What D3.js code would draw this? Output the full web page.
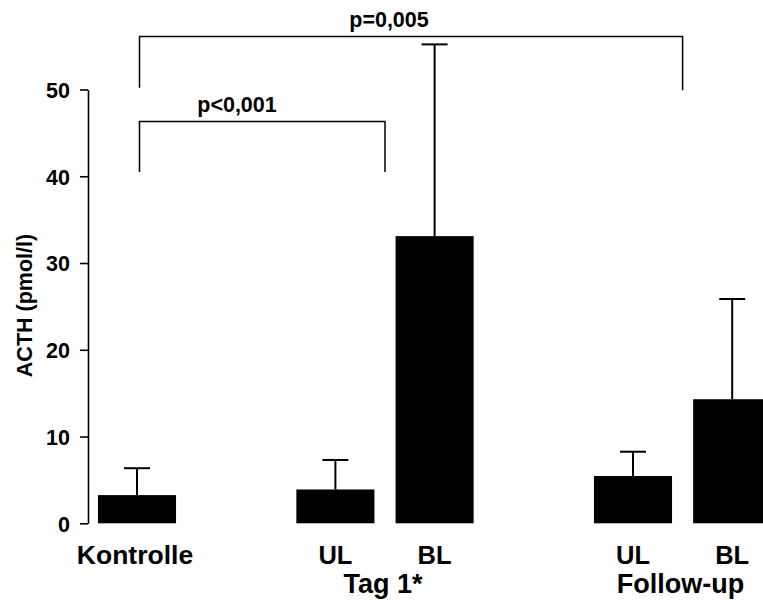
<!DOCTYPE html>
<html>
<head>
<meta charset="utf-8">
<script src="https://cdn.jsdelivr.net/npm/d3@7"></script>
<style>
  html, body { margin: 0; padding: 0; background: #fff; }
  svg { display: block; }
  text { font-family: "Liberation Sans", Arial, sans-serif; font-weight: bold; fill: #000; }
</style>
</head>
<body>
<script>
// ---- data ----
const slots      = ["Kontrolle", "gap1", "Tag1-UL", "Tag1-BL", "gap2", "FU-UL", "FU-BL"];
const barKeys    = ["Kontrolle", "Tag1-UL", "Tag1-BL", "FU-UL", "FU-BL"];
const barLabels  = ["Kontrolle", "UL", "BL", "UL", "BL"];
const means      = [3.25, 3.9, 33.1, 5.45, 14.3];
const upperErr   = [6.35, 7.3, 55.2, 8.25, 25.85];
const groupNames = ["Tag 1*", "Follow-up"];
const groupMembers = [["Tag1-UL", "Tag1-BL"], ["FU-UL", "FU-BL"]];
const yTicks     = [0, 10, 20, 30, 40, 50];
const yLabel     = "ACTH (pmol/l)";
const pLabels    = ["p<0,001", "p=0,005"];

// ---- layout ----
const W = 763, H = 600;
const svg = d3.select("body").append("svg").attr("width", W).attr("height", H);

const x = d3.scaleBand().domain(slots).range([87.4, 781.8]).paddingInner(0.213).paddingOuter(0.1065);
const y = d3.scaleLinear().domain([0, 50]).range([523.3, 89.5]);

const center = k => x(k) + x.bandwidth() / 2;

// axis
const axis = d3.axisLeft(y).tickValues(yTicks).tickSize(8).tickSizeOuter(0).tickPadding(10).tickFormat(d3.format("d"));
const gAxis = svg.append("g").attr("transform", "translate(88,0)").call(axis);
gAxis.select(".domain").attr("stroke", "#000").attr("stroke-width", 1.6);
gAxis.selectAll(".tick line").attr("stroke", "#000").attr("stroke-width", 1.6);
gAxis.selectAll(".tick text")
  .style("font-size", "21.5px").style("font-family", "'Liberation Sans', Arial, sans-serif")
  .style("font-weight", "bold").attr("fill", "#000").attr("dy", "0.36em");

// y label
svg.append("text")
  .attr("transform", "translate(32,305.5) rotate(-90)")
  .attr("text-anchor", "middle")
  .style("font-size", "21.5px")
  .text(yLabel);

// bars
const bars = barKeys.map((k, i) => ({ key: k, mean: means[i], up: upperErr[i], label: barLabels[i] }));

svg.append("g").selectAll("rect").data(bars).join("rect")
  .attr("x", d => x(d.key))
  .attr("y", d => y(d.mean))
  .attr("width", x.bandwidth())
  .attr("height", d => y(0) - y(d.mean))
  .attr("fill", "#000");

// error bars
const capHalf = 13;
const gErr = svg.append("g").attr("stroke", "#000").attr("stroke-width", 2);
gErr.selectAll("line.v").data(bars).join("line").attr("class", "v")
  .attr("x1", d => center(d.key)).attr("x2", d => center(d.key))
  .attr("y1", d => y(d.mean)).attr("y2", d => y(d.up));
gErr.selectAll("line.c").data(bars).join("line").attr("class", "c")
  .attr("x1", d => center(d.key) - capHalf).attr("x2", d => center(d.key) + capHalf)
  .attr("y1", d => y(d.up)).attr("y2", d => y(d.up));

// category labels
svg.append("g").selectAll("text").data(bars).join("text")
  .attr("x", d => center(d.key) - (d.key === "Kontrolle" ? 2 : 0))
  .attr("y", 564)
  .attr("text-anchor", "middle")
  .style("font-size", d => d.key === "Kontrolle" ? "26.5px" : "25.5px")
  .text(d => d.label);

// group labels
const groupCenter = m => (center(m[0]) + center(m[1])) / 2;
svg.append("g").selectAll("text").data(groupNames).join("text")
  .attr("x", (d, i) => groupCenter(groupMembers[i]) - 2)
  .attr("y", 593)
  .attr("text-anchor", "middle")
  .style("font-size", "27px")
  .text(d => d);

// significance brackets
const brackets = [
  { x1: center("Kontrolle") + 2.5, x2: groupCenter(groupMembers[0]), top: 46.3, e1: 40.5, e2: 40.5, label: pLabels[0], lx: 237, ly: 112 },
  { x1: center("Kontrolle") + 2.5, x2: groupCenter(groupMembers[1]), top: 56.1, e1: 50.2, e2: 49.9, label: pLabels[1], lx: 389, ly: 27 }
];
const gBr = svg.append("g");
gBr.selectAll("path").data(brackets).join("path")
  .attr("d", b => `M${b.x1},${y(b.e1)}V${y(b.top)}H${b.x2}V${y(b.e2)}`)
  .attr("fill", "none").attr("stroke", "#000").attr("stroke-width", 1.5);
gBr.selectAll("text").data(brackets).join("text")
  .attr("x", b => b.lx).attr("y", b => b.ly)
  .attr("text-anchor", "middle")
  .style("font-size", "21.5px")
  .text(b => b.label);
</script>
</body>
</html>
